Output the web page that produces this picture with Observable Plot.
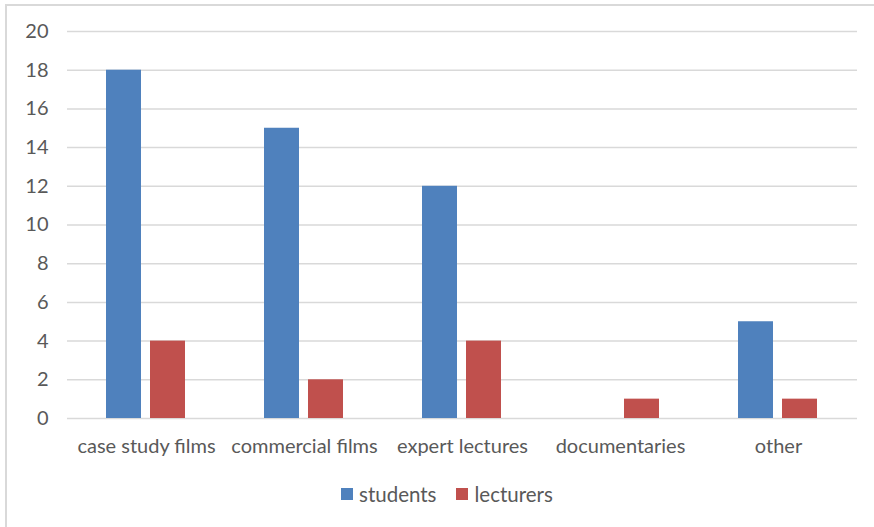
<!DOCTYPE html>
<html>
<head>
<meta charset="utf-8">
<script src="https://cdn.jsdelivr.net/npm/d3@7"></script>
<script src="https://cdn.jsdelivr.net/npm/@observablehq/plot@0.6"></script>
<style>
  body { margin: 0; background: #fff; }
  #frame { position: relative; width: 874px; height: 527px; overflow: hidden; background: #fff; }
  #frame::before {
    content: ""; position: absolute; left: 5px; top: 4px; right: -10px; bottom: -10px;
    border-left: 2px solid #d9d9d9; border-top: 2px solid #d9d9d9; pointer-events: none;
  }
  #chart { position: absolute; left: 0; top: 0; }
  #legend {
    position: absolute; left: 341px; top: 482px; display: flex; align-items: center;
    font-family: Lato, sans-serif; font-size: 20.5px; color: #595959; line-height: 24px;
  }
  #legend .item { display: flex; align-items: center; margin-right: 20px; }
  #legend .sw { width: 12px; height: 12px; margin-right: 6px; }
</style>
</head>
<body>
<div id="frame">
  <div id="chart"></div>
  <div id="legend"></div>
</div>
<script>
// Categories along the x axis
const categories = ["case study films", "commercial films", "expert lectures", "documentaries", "other"];
// Series names and their values per category
const series = ["students", "lecturers"];
const students = [18, 15, 12, 0, 5];
const lecturers = [4, 2, 4, 1, 1];
const seriesColors = ["#4F81BD", "#C0504D"];
// Y axis ticks
const yTicks = [0, 2, 4, 6, 8, 10, 12, 14, 16, 18, 20];

// Long-format table for the grouped bars
const table = categories.flatMap((c, i) => [
  {category: c, series: "students", value: students[i]},
  {category: c, series: "lecturers", value: lecturers[i]}
]);

const chart = Plot.plot({
  width: 874,
  height: 470,
  marginTop: 31,
  marginBottom: 52,
  marginLeft: 66,
  marginRight: 17,
  style: {fontFamily: "Lato, sans-serif", fontSize: "20px", color: "#595959", background: "transparent", overflow: "visible"},
  fx: {domain: categories, padding: 0, label: null},
  x: {domain: series, paddingInner: 0.2, paddingOuter: 0.858, axis: null},
  y: {domain: [0, 20], label: null},
  color: {domain: series, range: seriesColors},
  marks: [
    Plot.gridY(yTicks, {stroke: "#d9d9d9", strokeOpacity: 1, strokeWidth: 1.5}),
    Plot.axisY(yTicks, {tickSize: 0, tickPadding: 19, label: null, fill: "#595959"}),
    Plot.axisFx({anchor: "bottom", tickSize: 0, tickPadding: 20, label: null, fill: "#595959"}),
    Plot.barY(table, {fx: "category", x: "series", y: "value", fill: "series"})
  ]
});
document.getElementById("chart").appendChild(chart);

// Legend below the chart, built from the same series and colours
const legend = document.getElementById("legend");
series.forEach((s, i) => {
  const item = document.createElement("div");
  item.className = "item";
  const sw = document.createElement("span");
  sw.className = "sw";
  sw.style.background = seriesColors[i];
  const label = document.createElement("span");
  label.textContent = s;
  item.append(sw, label);
  legend.appendChild(item);
});
</script>
</body>
</html>
